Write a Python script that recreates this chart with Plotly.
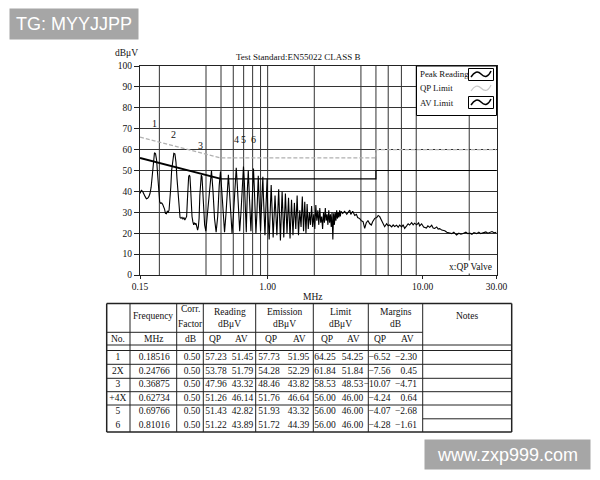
import math
import plotly.graph_objects as go

# ---------------- spectrum data (MHz, dBuV) ----------------
peak_low = [
    (0.150, 39), (0.153, 40.5), (0.156, 40), (0.159, 38.3), (0.162, 37.5), (0.165, 36.5), (0.168, 36.7),
    (0.171, 37.5), (0.174, 39), (0.177, 42), (0.180, 48), (0.183, 55), (0.186, 58.5), (0.189, 58),
    (0.192, 55), (0.195, 48), (0.198, 40), (0.201, 35), (0.204, 34.3), (0.207, 34.5), (0.210, 33.8),
    (0.213, 33), (0.216, 31.5), (0.219, 29.5), (0.222, 29.3), (0.225, 30.5), (0.228, 30), (0.231, 31),
    (0.234, 35), (0.237, 42), (0.240, 50), (0.244, 56), (0.248, 58.2), (0.252, 58), (0.256, 54),
    (0.260, 46), (0.264, 38), (0.268, 30.5), (0.272, 27.5), (0.276, 27.1), (0.280, 27.6), (0.284, 26.8),
    (0.288, 27.5), (0.292, 26.3), (0.296, 27), (0.300, 28), (0.303, 35), (0.306, 42), (0.309, 47),
    (0.312, 47.8), (0.315, 47.2), (0.318, 42), (0.321, 35), (0.325, 28), (0.329, 25.5), (0.333, 24),
    (0.337, 25), (0.341, 24.3), (0.345, 24.7), (0.349, 23), (0.353, 21.5), (0.357, 23), (0.361, 27),
    (0.365, 38), (0.369, 46), (0.373, 47.8), (0.377, 47), (0.381, 42), (0.386, 33), (0.392, 24), (0.399, 21),
]
peak_mid = [
    (0.410, 30), (0.424, 44), (0.434, 50), (0.444, 40), (0.454, 27), (0.465, 20.5), (0.476, 28),
    (0.487, 43), (0.496, 49.5), (0.505, 41), (0.516, 28), (0.527, 20.5), (0.538, 29), (0.549, 42),
    (0.558, 48), (0.567, 40), (0.578, 28), (0.589, 20), (0.603, 30), (0.617, 45), (0.627, 51.3),
    (0.637, 43), (0.648, 30), (0.660, 21), (0.674, 31), (0.688, 45), (0.698, 51.9), (0.708, 44),
    (0.718, 30), (0.728, 20.5), (0.740, 41), (0.750, 50), (0.760, 40), (0.770, 27), (0.780, 21),
    (0.792, 33), (0.802, 46), (0.810, 51), (0.819, 43), (0.829, 30), (0.840, 20), (0.852, 29),
    (0.862, 42), (0.870, 47.5), (0.879, 38), (0.889, 27), (0.900, 21), (0.912, 32), (0.923, 43),
    (0.931, 47), (0.940, 37), (0.950, 26), (0.961, 19), (0.973, 31), (0.985, 42), (0.992, 46),
    (1.000, 33), (1.010, 22),
]
peak_dense = [
    (1.023, 17), (1.054, 43), (1.085, 18), (1.116, 38), (1.147, 19), (1.178, 41), (1.209, 16.5),
    (1.240, 40), (1.271, 18), (1.302, 39), (1.333, 20), (1.364, 37), (1.395, 17.5), (1.426, 36),
    (1.457, 19), (1.488, 34.5), (1.519, 22), (1.550, 38), (1.581, 19), (1.612, 31), (1.643, 23),
    (1.674, 37.5), (1.705, 21), (1.736, 35), (1.767, 20), (1.798, 34), (1.829, 22), (1.860, 30),
    (1.891, 24), (1.922, 33), (1.953, 23), (1.984, 29), (2.015, 22), (2.046, 33.5), (2.077, 26),
    (2.108, 31), (2.139, 24), (2.170, 32), (2.201, 25), (2.232, 28), (2.263, 22), (2.294, 30),
    (2.325, 25), (2.356, 32), (2.387, 26), (2.418, 29), (2.449, 24), (2.480, 31), (2.511, 25),
    (2.542, 29), (2.573, 23), (2.604, 30), (2.635, 17), (2.666, 29.5), (2.697, 24), (2.728, 30),
    (2.759, 26), (2.790, 31), (2.821, 27), (2.852, 30), (2.883, 27.5), (2.914, 31), (2.945, 28),
    (2.976, 30.5),
]
peak_high = [
    (3.05, 29.5), (3.14, 30.5), (3.24, 29), (3.39, 31.1), (3.44, 29), (3.54, 30.5), (3.65, 28.5),
    (3.74, 29), (3.81, 27.5), (3.93, 27), (4.02, 26), (4.13, 25.5), (4.23, 22.3), (4.33, 25),
    (4.44, 26), (4.56, 24.5), (4.67, 23.9), (4.76, 25.5), (4.91, 27.1), (5.06, 27.5), (5.17, 28.5),
    (5.29, 27.9), (5.42, 26), (5.53, 24.5), (5.69, 23.1), (5.86, 24.5), (6.00, 23.5), (6.13, 23.9),
    (6.32, 23), (6.46, 24), (6.60, 23.2), (6.80, 23.8), (6.96, 22.8), (7.11, 23.9), (7.33, 23),
    (7.49, 24), (7.66, 22.3), (7.89, 23.5), (8.07, 24.5), (8.25, 23.9), (8.50, 25), (8.69, 24),
    (8.88, 24.8), (9.15, 24), (9.43, 25), (9.57, 23.5), (9.86, 24.5), (10.16, 23), (10.58, 22.5),
    (10.82, 23.5), (11.11, 22.8), (11.45, 23.8), (11.70, 22.5), (11.98, 22.3), (12.33, 23),
    (12.61, 22), (12.90, 22.2), (13.29, 21.5), (13.91, 21.2), (14.33, 20.5), (14.99, 20.2),
    (15.44, 19.8), (15.91, 20.5), (16.56, 19.1), (17.14, 20), (17.66, 19.5), (18.28, 19.9),
    (19.03, 20.5), (19.61, 19.8), (20.21, 20), (20.82, 19.5), (21.45, 20.3), (22.35, 19.8),
    (23.06, 20.5), (23.76, 19.8), (24.58, 20.1), (25.61, 20.6), (26.39, 20), (27.24, 20.3),
    (28.06, 20.8), (28.91, 20.2), (30.0, 20.5),
]

lim_freq = [0.15, 0.5, 5, 5, 30]
qp_limit = [66, 56, 56, 60, 60]
av_limit = [56, 46, 46, 50, 50]

# ---------------- table data ----------------
mk_no = ["1", "2X", "3", "+4X", "5", "6"]
mk_freq = [0.18516, 0.24766, 0.36875, 0.62734, 0.69766, 0.81016]
corr_db = [0.50, 0.50, 0.50, 0.50, 0.50, 0.50]
read_qp = [57.23, 53.78, 47.96, 51.26, 51.43, 51.22]
read_av = [51.45, 51.79, 43.32, 46.14, 42.82, 43.89]
emis_qp = [57.73, 54.28, 48.46, 51.76, 51.93, 51.72]
emis_av = [51.95, 52.29, 43.82, 46.64, 43.32, 44.39]
lim_qp = [64.25, 61.84, 58.53, 56.00, 56.00, 56.00]
lim_av = [54.25, 51.84, 48.53, 46.00, 46.00, 46.00]
mar_qp = [-6.52, -7.56, -10.07, -4.24, -4.07, -4.28]
mar_av = [-2.30, 0.45, -4.71, 0.64, -2.68, -1.61]

x_tickvals = [0.15, 1.0, 10.0, 30.0]
x_ticktext = ["0.15", "1.00", "10.00", "30.00"]
y_tickvals = [0, 10, 20, 30, 40, 50, 60, 70, 80, 90, 100]

# ---------------- style / layout constants ----------------
SERIF = "Liberation Serif"
SANS = "Liberation Sans"
GRID_X = [0.2, 0.4, 0.5, 0.6, 0.7, 0.8, 0.9, 1.0, 2.0, 4.0, 5.0, 6.0, 7.3, 9.1, 20.0]
MK_LABEL_Y = [72.5, 67, 62, 65, 65, 65]
INK = "#111111"
OFF = 8                      # the page body adds an 8 px margin; layout works in page pixels
FW, FH = 600 - OFF, 480 - OFF

peak_pts = peak_low + peak_mid + peak_dense + peak_high
pk_freq = [p[0] for p in peak_pts]
pk_level = [p[1] for p in peak_pts]


def fmt(v):
    return f"{v:.2f}".replace("-", "\u2212")


fig = go.Figure()

# vertical grid lines (irregular set, as in the original)
gx, gy = [], []
for f in GRID_X:
    gx += [f, f, None]
    gy += [0, 100, None]
fig.add_trace(go.Scatter(x=gx, y=gy, mode="lines", line=dict(color="#333", width=1),
                         hoverinfo="skip", showlegend=False, xaxis="x", yaxis="y"))

fig.add_trace(go.Scatter(x=pk_freq, y=pk_level, mode="lines", name="Peak Reading",
                         line=dict(color="black", width=1.1), xaxis="x", yaxis="y"))
fig.add_trace(go.Scatter(x=lim_freq, y=qp_limit, mode="lines", name="QP Limit",
                         line=dict(color="#b0b0b0", width=1.2, dash="4px,2px"), xaxis="x", yaxis="y"))
# AV limit: sloped part drawn heavier, flat parts thin (as in the scan)
fig.add_trace(go.Scatter(x=lim_freq[:2], y=av_limit[:2], mode="lines", name="AV Limit",
                         line=dict(color="black", width=1.8), xaxis="x", yaxis="y"))
fig.add_trace(go.Scatter(x=lim_freq[1:], y=av_limit[1:], mode="lines", name="AV Limit",
                         line=dict(color="black", width=1.2), xaxis="x", yaxis="y", showlegend=False))

# marker labels on the spectrum
plot_lbl = [s.replace("+", "").replace("X", "") for s in mk_no]
annotations = []
for lbl, f, yv in zip(plot_lbl, mk_freq, MK_LABEL_Y):
    annotations.append(dict(x=math.log10(f), y=yv, xref="x", yref="y", text=lbl, showarrow=False,
                            font=dict(family=SERIF, size=10, color=INK)))

# ---------------- table (page-pixel axes x2/y2) ----------------
T_COLS = [106.7, 130, 176.7, 203.3, 255.7, 313.3, 368.3, 422.7, 511.7]
T_TOP, T_H1, T_H2, T_D0, T_BOT = 303.5, 332.3, 345.0, 350.5, 432.0
ROW_LINES = [364.3, 378.3, 391.7, 405.0]
ROW_Y = [357.5, 371.3, 385.0, 398.3, 412.0, 425.5]

shapes = []


def hline(y, x0, x1, w=1.0):
    shapes.append(dict(type="line", xref="x2", yref="y2", x0=x0, x1=x1, y0=y, y1=y,
                       line=dict(color="#222", width=w)))


def vline(x, y0, y1, w=1.0):
    shapes.append(dict(type="line", xref="x2", yref="y2", x0=x, x1=x, y0=y0, y1=y1,
                       line=dict(color="#222", width=w)))


hline(T_TOP, T_COLS[0], T_COLS[-1], 1.5)
hline(T_BOT, T_COLS[0], T_COLS[-1], 1.5)
hline(T_H1, T_COLS[0], T_COLS[-2])
hline(T_H2, T_COLS[0], T_COLS[-1])
hline(T_D0, T_COLS[0], T_COLS[-1])
for y in ROW_LINES:
    hline(y, T_COLS[0], T_COLS[-1])
hline(418.8, T_COLS[-2], T_COLS[-1])
for i, x in enumerate(T_COLS):
    vline(x, T_TOP, T_BOT, 1.5 if i in (0, len(T_COLS) - 1) else 1.0)

hdr_font = dict(family=SERIF, size=9.5, color=INK)
header1 = [
    (153.3, 315.5, "Frequency"), (190.0, 308.5, "Corr."), (190.0, 324.0, "Factor"),
    (229.5, 311.5, "Reading"), (229.5, 323.5, "dB\u03bcV"),
    (284.5, 311.5, "Emission"), (284.5, 323.5, "dB\u03bcV"),
    (340.8, 311.5, "Limit"), (340.8, 323.5, "dB\u03bcV"),
    (395.5, 311.5, "Margins"), (395.5, 323.5, "dB"),
    (467.0, 315.5, "Notes"),
]
header2 = [(118.3, "No."), (154.0, "MHz"), (190.0, "dB"), (215.0, "QP"), (241.0, "AV"),
           (271.0, "QP"), (299.0, "AV"), (327.0, "QP"), (353.0, "AV"), (379.5, "QP"), (407.0, "AV")]
for x, y, t in header1:
    annotations.append(dict(x=x, y=y, xref="x2", yref="y2", text=t, showarrow=False, font=hdr_font))
for x, t in header2:
    annotations.append(dict(x=x, y=339.0, xref="x2", yref="y2", text=t, showarrow=False, font=hdr_font))

cell_font = dict(family=SERIF, size=9.5, color=INK)
columns = [
    (117.8, "middle center", list(mk_no)),
    (154.2, "middle center", [f"{v:.5f}" for v in mk_freq]),
    (192.0, "middle center", [fmt(v) for v in corr_db]),
    (216.0, "middle center", [fmt(v) for v in read_qp]),
    (242.5, "middle center", [fmt(v) for v in read_av]),
    (269.0, "middle center", [fmt(v) for v in emis_qp]),
    (298.5, "middle center", [fmt(v) for v in emis_av]),
    (325.0, "middle center", [fmt(v) for v in lim_qp]),
    (352.5, "middle center", [fmt(v) for v in lim_av]),
    (390.5, "middle left", [fmt(v) for v in mar_qp]),
    (417.0, "middle left", [fmt(v) for v in mar_av]),
]
for x, pos, texts in columns:
    fig.add_trace(go.Scatter(x=[x] * len(texts), y=ROW_Y, mode="text", text=texts,
                             textposition=pos, textfont=cell_font, xaxis="x2", yaxis="y2",
                             hoverinfo="skip", showlegend=False))

# ---------------- hand-drawn legend box (text left, sample right) ----------------
shapes.append(dict(type="rect", xref="x2", yref="y2", x0=416.5, x1=496.5, y0=66, y1=115.5,
                   line=dict(color="black", width=1), fillcolor="white"))
shapes.append(dict(type="rect", xref="x2", yref="y2", x0=468.5, x1=493.5, y0=68.5, y1=80.5,
                   line=dict(color="black", width=1), fillcolor="white"))
shapes.append(dict(type="rect", xref="x2", yref="y2", x0=468.5, x1=493.5, y0=96.5, y1=108.5,
                   line=dict(color="black", width=1), fillcolor="white"))
shapes.append(dict(type="path", xref="x2", yref="y2", path="M 471,77 Q 476,69 481,74 Q 487,80 491,71",
                   line=dict(color="black", width=1.5)))
shapes.append(dict(type="path", xref="x2", yref="y2", path="M 471,91 Q 476,83 481,88 Q 487,94 491,85",
                   line=dict(color="#c8c8c8", width=1.2)))
shapes.append(dict(type="path", xref="x2", yref="y2", path="M 471,105 Q 476,97 481,102 Q 487,108 491,99",
                   line=dict(color="black", width=1.5)))
leg_font = dict(family=SERIF, size=8.8, color=INK)
for y, t in [(74.0, "Peak Reading"), (88.3, "QP Limit"), (102.7, "AV Limit")]:
    annotations.append(dict(x=418.0, y=y, xref="x2", yref="y2", text=t, showarrow=False,
                            xanchor="left", font=leg_font))

# ---------------- other texts ----------------
annotations += [
    dict(x=298.5, y=56.5, xref="x2", yref="y2", text="Test Standard:EN55022 CLASS B",
         showarrow=False, font=dict(family=SERIF, size=9, color=INK)),
    dict(x=126.5, y=52.5, xref="x2", yref="y2", text="dB\u03bcV", showarrow=False,
         font=dict(family=SERIF, size=9.5, color=INK)),
    dict(x=313.0, y=297.0, xref="x2", yref="y2", text="MHz", showarrow=False,
         font=dict(family=SERIF, size=9.5, color=INK)),
    dict(x=493.5, y=266.5, xref="x2", yref="y2", text="x:QP Valve", showarrow=False,
         xanchor="right", bgcolor="white", font=dict(family=SERIF, size=9.5, color=INK)),
    dict(x=74.0, y=24.0, xref="x2", yref="y2", text="TG: MYYJJPP", showarrow=False,
         width=128, height=30, borderpad=0, bgcolor="#a6a6a6",
         font=dict(family=SANS, size=18, color="white")),
    dict(x=507.5, y=454.5, xref="x2", yref="y2", text="www.zxp999.com", showarrow=False,
         width=165, height=29, borderpad=0, bgcolor="#a6a6a6",
         font=dict(family=SANS, size=18, color="white")),
]

eps = 1e-6
fig.update_layout(
    template="none",
    width=FW, height=FH, margin=dict(l=0, r=0, t=0, b=0, autoexpand=False),
    paper_bgcolor="white", plot_bgcolor="rgba(0,0,0,0)", showlegend=False,
    font=dict(family=SERIF, size=10, color=INK),
    xaxis=dict(type="log", range=[math.log10(0.15) - eps, math.log10(30) + eps],
               domain=[(140 - OFF) / FW, (496.5 - OFF) / FW], anchor="y", automargin=False,
               tickmode="array", tickvals=x_tickvals, ticktext=x_ticktext,
               ticks="outside", ticklen=3, tickcolor="#222", showgrid=False,
               showline=True, linecolor="#222", linewidth=1, mirror=True, zeroline=False,
               tickfont=dict(family=SERIF, size=9.5, color=INK)),
    yaxis=dict(range=[0, 100], domain=[1 - (275 - OFF) / FH, 1 - (66 - OFF) / FH], anchor="x",
               automargin=False, tickmode="array", tickvals=y_tickvals, ticks="outside", ticklen=5,
               tickcolor="#222", showgrid=True, gridcolor="#333", gridwidth=1,
               showline=True, linecolor="#222", linewidth=1, mirror=True, zeroline=False,
               tickfont=dict(family=SERIF, size=9.5, color=INK)),
    xaxis2=dict(domain=[0, 1], range=[OFF, OFF + FW], anchor="y2", visible=False, fixedrange=True,
                automargin=False, showticklabels=False, showgrid=False, zeroline=False),
    yaxis2=dict(domain=[0, 1], range=[OFF + FH, OFF], anchor="x2", visible=False, fixedrange=True,
                automargin=False, showticklabels=False, showgrid=False, zeroline=False),
    shapes=shapes, annotations=annotations,
)

fig.write_html("out.html")
